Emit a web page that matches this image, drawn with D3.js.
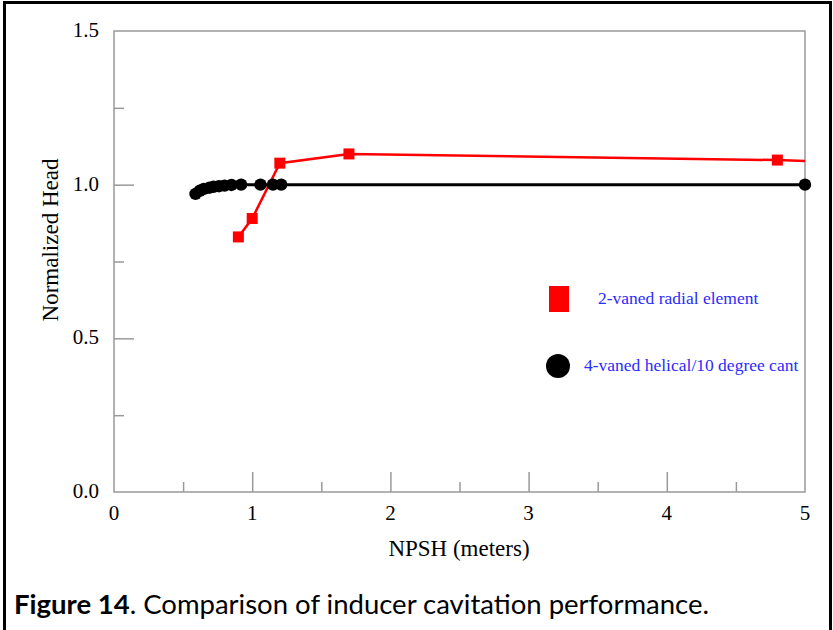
<!DOCTYPE html>
<html>
<head>
<meta charset="utf-8">
<script src="https://cdn.jsdelivr.net/npm/d3@7"></script>
<style>
  body { margin: 0; background: #fff; }
</style>
</head>
<body>
<div id="chart"></div>
<script>
// series: 2-vaned radial element (last point is the line end, no marker)
var radial_x = [0.9, 1.0, 1.2, 1.7, 4.8, 5.0];
var radial_y = [0.83, 0.89, 1.07, 1.10, 1.08, 1.077];
// series: 4-vaned helical/10 degree cant
var helical_x = [0.59, 0.62, 0.65, 0.69, 0.72, 0.76, 0.80, 0.85, 0.92, 1.06, 1.15, 1.21, 5.0];
var helical_y = [0.97, 0.98, 0.986, 0.99, 0.993, 0.995, 0.997, 0.999, 1.0, 1.0, 1.0, 1.0, 1.0];

var x_ticks = [0, 1, 2, 3, 4, 5];
var x_minor = [0.5, 1.5, 2.5, 3.5, 4.5];
var y_ticks = [0.0, 0.5, 1.0, 1.5];
var y_minor = [0.25, 0.75, 1.25];

var legend_labels = ["2-vaned radial element", "4-vaned helical/10 degree cant"];
var caption_bold = "Figure 14";
var caption_rest = ". Comparison of inducer cavitation performance.";

chart_width = 833;
chart_height = 630;
var m = {left: 114, top: 31, right: 805, bottom: 492};

var svg = d3.select('#chart')
  .append('svg')
  .attr('width', chart_width)
  .attr('height', chart_height);

// outer figure border (bottom edge is off the page)
svg.append('rect')
  .attr('x', 4.5).attr('y', 2.5)
  .attr('width', 826).attr('height', 700)
  .attr('fill', 'none')
  .attr('stroke', '#000')
  .attr('stroke-width', 3);

var x_scale = d3.scaleLinear().domain([0, 5]).range([m.left, m.right]);
var y_scale = d3.scaleLinear().domain([0, 1.5]).range([m.bottom, m.top]);

var grey = '#999';
var serif = '"Liberation Serif", "Times New Roman", serif';

// plot frame
svg.append('rect')
  .attr('x', m.left).attr('y', m.top)
  .attr('width', m.right - m.left).attr('height', m.bottom - m.top)
  .attr('fill', 'none')
  .attr('stroke', grey)
  .attr('stroke-width', 1.5);

// ticks pointing inward
function inward(axis, scale, vals, len) {
  var g = svg.append('g')
    .attr('transform', axis === 'x' ? 'translate(0,' + m.bottom + ')' : 'translate(' + m.left + ',0)');
  var a = axis === 'x' ? d3.axisTop(scale) : d3.axisRight(scale);
  a.tickValues(vals).tickSize(len).tickFormat('');
  g.call(a);
  g.select('.domain').remove();
  g.selectAll('line').attr('stroke', grey).attr('stroke-width', 1.5);
  return g;
}
inward('x', x_scale, x_ticks.slice(1, -1), 20);
inward('x', x_scale, x_minor, 10);
inward('y', y_scale, y_ticks.slice(1, -1), 20);
inward('y', y_scale, y_minor, 10);

// tick labels
svg.selectAll('.xlab')
  .data(x_ticks)
  .enter().append('text')
  .attr('x', d => x_scale(d))
  .attr('y', m.bottom + 28)
  .attr('text-anchor', 'middle')
  .style('font-family', serif)
  .style('font-size', '21px')
  .text(d => d);

svg.selectAll('.ylab')
  .data(y_ticks)
  .enter().append('text')
  .attr('x', m.left - 15)
  .attr('y', d => y_scale(d) + 6)
  .attr('text-anchor', 'end')
  .style('font-family', serif)
  .style('font-size', '21px')
  .text(d => d.toFixed(1));

// axis titles
svg.append('text')
  .attr('x', 459)
  .attr('y', 556)
  .attr('text-anchor', 'middle')
  .style('font-family', serif)
  .style('font-size', '23px')
  .text('NPSH (meters)');

svg.append('text')
  .attr('transform', 'translate(58,240) rotate(-90)')
  .attr('text-anchor', 'middle')
  .style('font-family', serif)
  .style('font-size', '23px')
  .text('Normalized Head');

// lines
var line = d3.line().x(d => x_scale(d[0])).y(d => y_scale(d[1]));
var helical = d3.zip(helical_x, helical_y);
var radial = d3.zip(radial_x, radial_y);

svg.append('path')
  .datum(helical)
  .attr('d', line)
  .attr('fill', 'none')
  .attr('stroke', '#000')
  .attr('stroke-width', 3);

svg.append('path')
  .datum(radial)
  .attr('d', line)
  .attr('fill', 'none')
  .attr('stroke', '#f00')
  .attr('stroke-width', 2.5);

svg.selectAll('.hc')
  .data(helical)
  .enter().append('circle')
  .attr('cx', d => x_scale(d[0]))
  .attr('cy', d => y_scale(d[1]))
  .attr('r', 6.2)
  .attr('fill', '#000');

svg.selectAll('.rs')
  .data(radial.slice(0, -1))
  .enter().append('rect')
  .attr('x', d => x_scale(d[0]) - 5.5)
  .attr('y', d => y_scale(d[1]) - 5.5)
  .attr('width', 11)
  .attr('height', 11)
  .attr('fill', '#f00');

// legend
svg.append('rect')
  .attr('x', 549).attr('y', 286)
  .attr('width', 20).attr('height', 26)
  .attr('fill', '#f00');
svg.append('circle')
  .attr('cx', 558).attr('cy', 366)
  .attr('r', 12)
  .attr('fill', '#000');

svg.selectAll('.leg')
  .data(legend_labels)
  .enter().append('text')
  .attr('x', (d, i) => i === 0 ? 598 : 584)
  .attr('y', (d, i) => i === 0 ? 304 : 371)
  .attr('fill', '#2b2bff')
  .style('font-family', serif)
  .style('font-size', '17.5px')
  .text(d => d);

// caption
var cap = svg.append('text')
  .attr('x', 14)
  .attr('y', 614)
  .style('font-family', 'Lato, "Open Sans", sans-serif')
  .style('font-size', '27.5px')
  .attr('fill', '#000');
cap.append('tspan').style('font-weight', 'bold').text(caption_bold);
cap.append('tspan').text(caption_rest);
</script>
</body>
</html>
